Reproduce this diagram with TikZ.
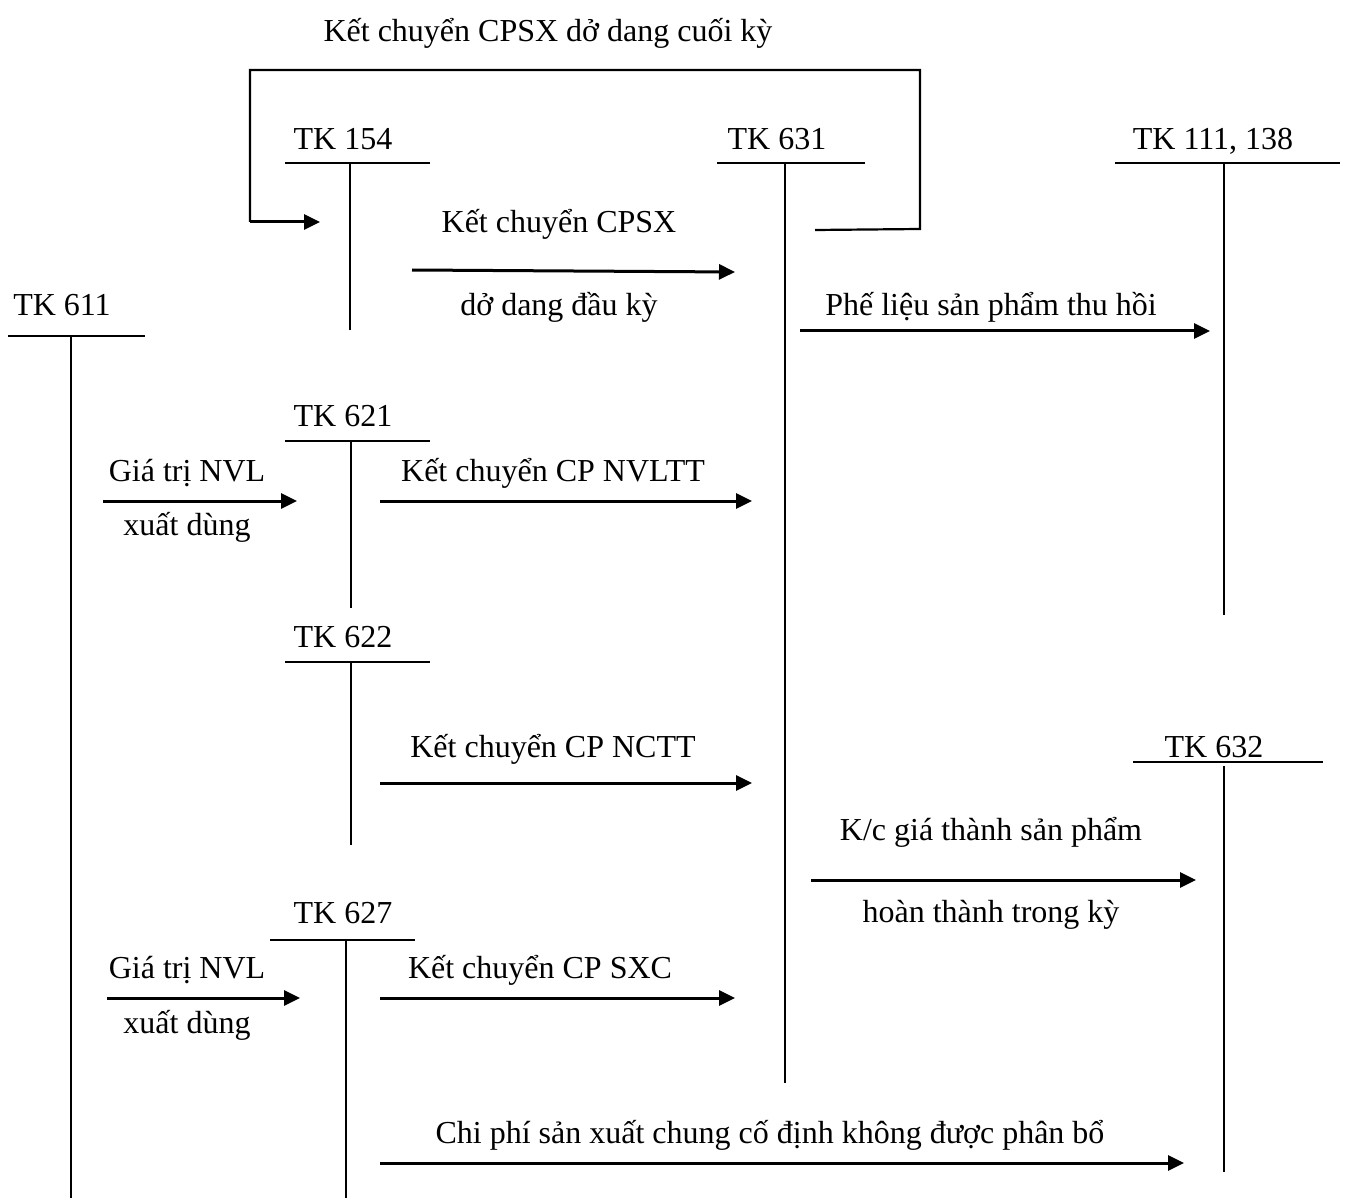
\documentclass[tikz,border=0pt]{standalone}
\usepackage{fontspec}
\setmainfont{Liberation Serif}
\usetikzlibrary{arrows.meta}
\begin{document}
\begin{tikzpicture}[x=1pt,y=-1pt,
  lbl/.style={anchor=base,inner sep=0pt,font=\fontsize{32}{37}\selectfont},
  tline/.style={line width=2pt},
  vline/.style={line width=1.6pt},
  flow/.style={line width=3pt,-{Triangle[length=16pt,width=15pt]}},
  loopline/.style={line width=2.2pt}]
\useasboundingbox (0,0) rectangle (1347,1198);

% title
\node[lbl] (title) at (548,42) {Kết chuyển CPSX dở dang cuối kỳ};

% T accounts
\node[lbl] (tk154) at (343,150) {TK 154};
\draw[tline] (285,163) -- (430,163);
\draw[vline] (350,163) -- (350,330);

\node[lbl] (tk631) at (777,150) {TK 631};
\draw[tline] (717,163) -- (865,163);
\draw[vline] (785,163) -- (785,1083);

\node[lbl] (tk111) at (1213,150) {TK 111, 138};
\draw[tline] (1115,163) -- (1340,163);
\draw[vline] (1224,163) -- (1224,615);

\node[lbl] (tk611) at (62,316) {TK 611};
\draw[tline] (8,336) -- (145,336);
\draw[vline] (71,336) -- (71,1198);

\node[lbl] (tk621) at (343,426) {TK 621};
\draw[tline] (285,441) -- (430,441);
\draw[vline] (351,441) -- (351,608);

\node[lbl] (tk622) at (343,647) {TK 622};
\draw[tline] (285,662) -- (430,662);
\draw[vline] (351,662) -- (351,845);

\node[lbl] (tk627) at (343,923) {TK 627};
\draw[tline] (270,940) -- (415,940);
\draw[vline] (346,940) -- (346,1198);

\node[lbl] (tk632) at (1214,757) {TK 632};
\draw[tline] (1133,762) -- (1323,762);
\draw[vline] (1224,766) -- (1224,1172);

% loop arrow: 631 -> 154
\coordinate (l0) at (815,230);
\coordinate (l1) at (920,229);
\coordinate (l2) at (920,70);
\coordinate (l3) at (250,70);
\coordinate (l4) at (250,222);
\coordinate (l5) at (320,222);
\draw[loopline] (l0) -- (l1) -- (l2) -- (l3) -- (l4);
\draw[flow] (l4) -- (l5);

% flows
\coordinate (a1s) at (412,270); \coordinate (a1e) at (735,272);
\draw[flow] (a1s) -- (a1e);
\node[lbl] (a1t) at (559,233) {Kết chuyển CPSX};
\node[lbl] (a1b) at (559,316) {dở dang đầu kỳ};

\coordinate (a2s) at (800,331); \coordinate (a2e) at (1210,331);
\draw[flow] (a2s) -- (a2e);
\node[lbl] (a2t) at (991,316) {Phế liệu sản phẩm thu hồi};

\coordinate (a3s) at (103,501); \coordinate (a3e) at (297,501);
\draw[flow] (a3s) -- (a3e);
\node[lbl] (a3t) at (187,481) {Giá trị NVL};
\node[lbl] (a3b) at (187,535) {xuất dùng};

\coordinate (a4s) at (380,501); \coordinate (a4e) at (752,501);
\draw[flow] (a4s) -- (a4e);
\node[lbl] (a4t) at (553,481) {Kết chuyển CP NVLTT};

\coordinate (a5s) at (380,783); \coordinate (a5e) at (752,783);
\draw[flow] (a5s) -- (a5e);
\node[lbl] (a5t) at (553,757) {Kết chuyển CP NCTT};

\coordinate (a6s) at (811,880); \coordinate (a6e) at (1196,880);
\draw[flow] (a6s) -- (a6e);
\node[lbl] (a6t) at (991,840) {K/c giá thành sản phẩm};
\node[lbl] (a6b) at (991,922) {hoàn thành trong kỳ};

\coordinate (a7s) at (107,998); \coordinate (a7e) at (300,998);
\draw[flow] (a7s) -- (a7e);
\node[lbl] (a7t) at (187,978) {Giá trị NVL};
\node[lbl] (a7b) at (187,1033) {xuất dùng};

\coordinate (a8s) at (380,998); \coordinate (a8e) at (735,998);
\draw[flow] (a8s) -- (a8e);
\node[lbl] (a8t) at (540,978) {Kết chuyển CP SXC};

\coordinate (a9s) at (380,1163); \coordinate (a9e) at (1184,1163);
\draw[flow] (a9s) -- (a9e);
\node[lbl] (a9t) at (770,1143) {Chi phí sản xuất chung cố định không được phân bổ};
\end{tikzpicture}
\end{document}
